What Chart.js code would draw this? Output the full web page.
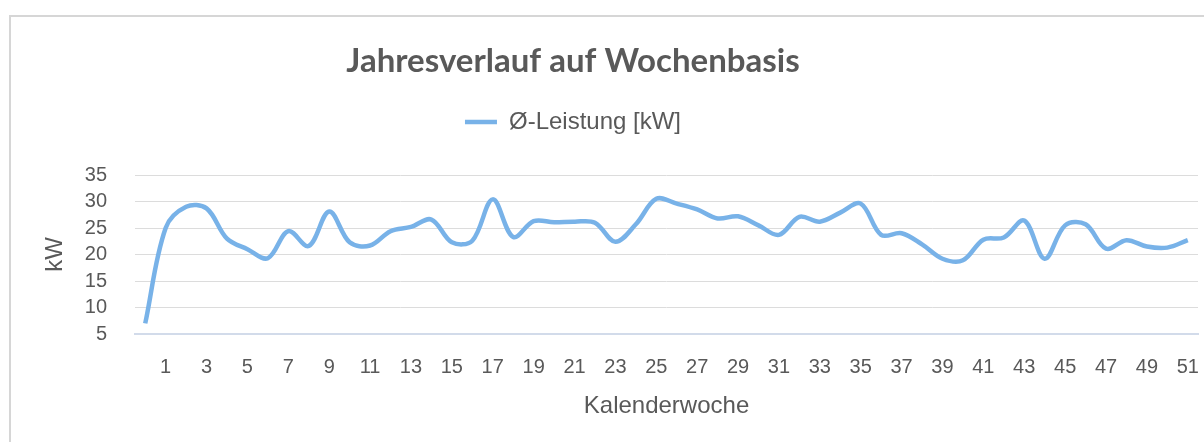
<!DOCTYPE html>
<html>
<head>
<meta charset="utf-8">
<script src="https://cdn.jsdelivr.net/npm/chart.js@4"></script>
<style>
html,body{margin:0;padding:0;background:#fff;overflow:hidden;width:1204px;height:442px}
#frame{position:absolute;left:9px;top:15px;width:3000px;height:3000px;border-left:2px solid #d6d6d6;border-top:2px solid #d6d6d6;box-sizing:border-box}
#c{position:absolute;left:0;top:0}
</style>
</head>
<body>
<div id="frame"></div>
<canvas id="c" width="1204" height="442"></canvas>
<script>
// ---- data ----
const weeks = ['0','1','2','3','4','5','6','7','8','9','10','11','12','13','14','15','16','17','18','19','20','21','22','23','24','25','26','27','28','29','30','31','32','33','34','35','36','37','38','39','40','41','42','43','44','45','46','47','48','49','50','51'];
const leistung = [7.0, 25.0, 29.0, 28.7, 23.0, 21.0, 19.3, 24.4, 21.6, 28.1,
                  22.3, 21.7, 24.4, 25.2, 26.6, 22.3, 22.6, 30.4, 23.3, 26.3,
                  26.1, 26.2, 26.0, 22.4, 25.7, 30.5, 29.6, 28.5, 26.8, 27.2,
                  25.5, 23.7, 27.1, 26.2, 27.9, 29.6, 23.7, 24.0, 21.9, 19.2,
                  18.9, 22.8, 23.2, 26.4, 19.2, 25.5, 25.7, 21.1, 22.7, 21.5,
                  21.3, 22.7];
const shownWeekLabels = ['1','3','5','7','9','11','13','15','17','19','21','23','25','27','29','31','33','35','37','39','41','43','45','47','49','51'];
const yTickValues = [5, 10, 15, 20, 25, 30, 35];
const chartTitle = 'Jahresverlauf auf Wochenbasis';
const seriesName = 'Ø-Leistung [kW]';
const xTitle = 'Kalenderwoche';
const yTitle = 'kW';

// ---- styles ----
const textColor = '#595959';
const lineColor = '#78b2e8';
const sansFamily = '"Liberation Sans", Arial, sans-serif';

const shiftTopBoxes = {
  id: 'shiftTopBoxes',
  afterLayout(chart) {
    const shift = 52;
    if (chart.titleBlock) chart.titleBlock.right -= shift;
    if (chart.legend) chart.legend.right -= shift;
  }
};

new Chart(document.getElementById('c'), {
  type: 'line',
  data: {
    labels: weeks,
    datasets: [{
      label: seriesName,
      data: leistung,
      xAxisID: 'x',
      yAxisID: 'y',
      borderColor: lineColor,
      backgroundColor: lineColor,
      borderWidth: 4.5,
      pointRadius: 0,
      pointHoverRadius: 0,
      tension: 0.35,
      fill: false
    }]
  },
  options: {
    responsive: false,
    animation: false,
    events: [],
    layout: { padding: { left: 0, right: 6, top: 0, bottom: 0 } },
    plugins: {
      title: {
        display: true,
        text: chartTitle,
        color: textColor,
        font: { family: 'Lato, sans-serif', size: 33, weight: 'bold', lineHeight: 1.2 },
        padding: { top: 42, bottom: 18.4 }
      },
      legend: {
        display: true,
        position: 'top',
        labels: {
          usePointStyle: true,
          pointStyle: 'line',
          pointStyleWidth: 32,
          color: textColor,
          font: { family: sansFamily, size: 24 },
          padding: 10
        }
      },
      tooltip: { enabled: false }
    },
    scales: {
      xTop: {
        type: 'category',
        position: 'top',
        display: true,
        grid: { display: false },
        border: { display: false },
        ticks: { display: false },
        afterFit(s) { s.height = 31; }
      },
      x: {
        type: 'category',
        position: 'bottom',
        offset: true,
        grid: { display: true, drawOnChartArea: false, color: 'rgba(0,0,0,0)', drawTicks: true, tickLength: 21, tickColor: 'rgba(0,0,0,0)' },
        border: { display: true, color: '#d2dbea', width: 2 },
        ticks: {
          autoSkip: false,
          maxRotation: 0,
          minRotation: 0,
          padding: 0,
          color: textColor,
          font: { family: sansFamily, size: 20 },
          callback(v, i) { return shownWeekLabels.includes(weeks[i]) ? weeks[i] : ''; }
        },
        title: {
          display: true,
          text: xTitle,
          color: textColor,
          font: { family: sansFamily, size: 24, lineHeight: 1.2 },
          padding: { top: 0, bottom: 21 }
        },
        afterFit(s) { s.height = 108; }
      },
      y: {
        type: 'linear',
        position: 'left',
        min: yTickValues[0],
        max: yTickValues[yTickValues.length - 1],
        grid: { color: '#dcdcdc', lineWidth: 1, drawTicks: true, tickLength: 28, tickColor: 'rgba(0,0,0,0)' },
        border: { display: false },
        ticks: {
          autoSkip: false,
          stepSize: yTickValues[1] - yTickValues[0],
          padding: 0,
          color: textColor,
          font: { family: sansFamily, size: 20 }
        },
        title: {
          display: true,
          text: yTitle,
          color: textColor,
          font: { family: sansFamily, size: 24, lineHeight: 1.2 },
          padding: { top: 41, bottom: 0 }
        },
        afterFit(s) { s.width = 135; }
      }
    }
  },
  plugins: [shiftTopBoxes]
});
</script>
</body>
</html>
